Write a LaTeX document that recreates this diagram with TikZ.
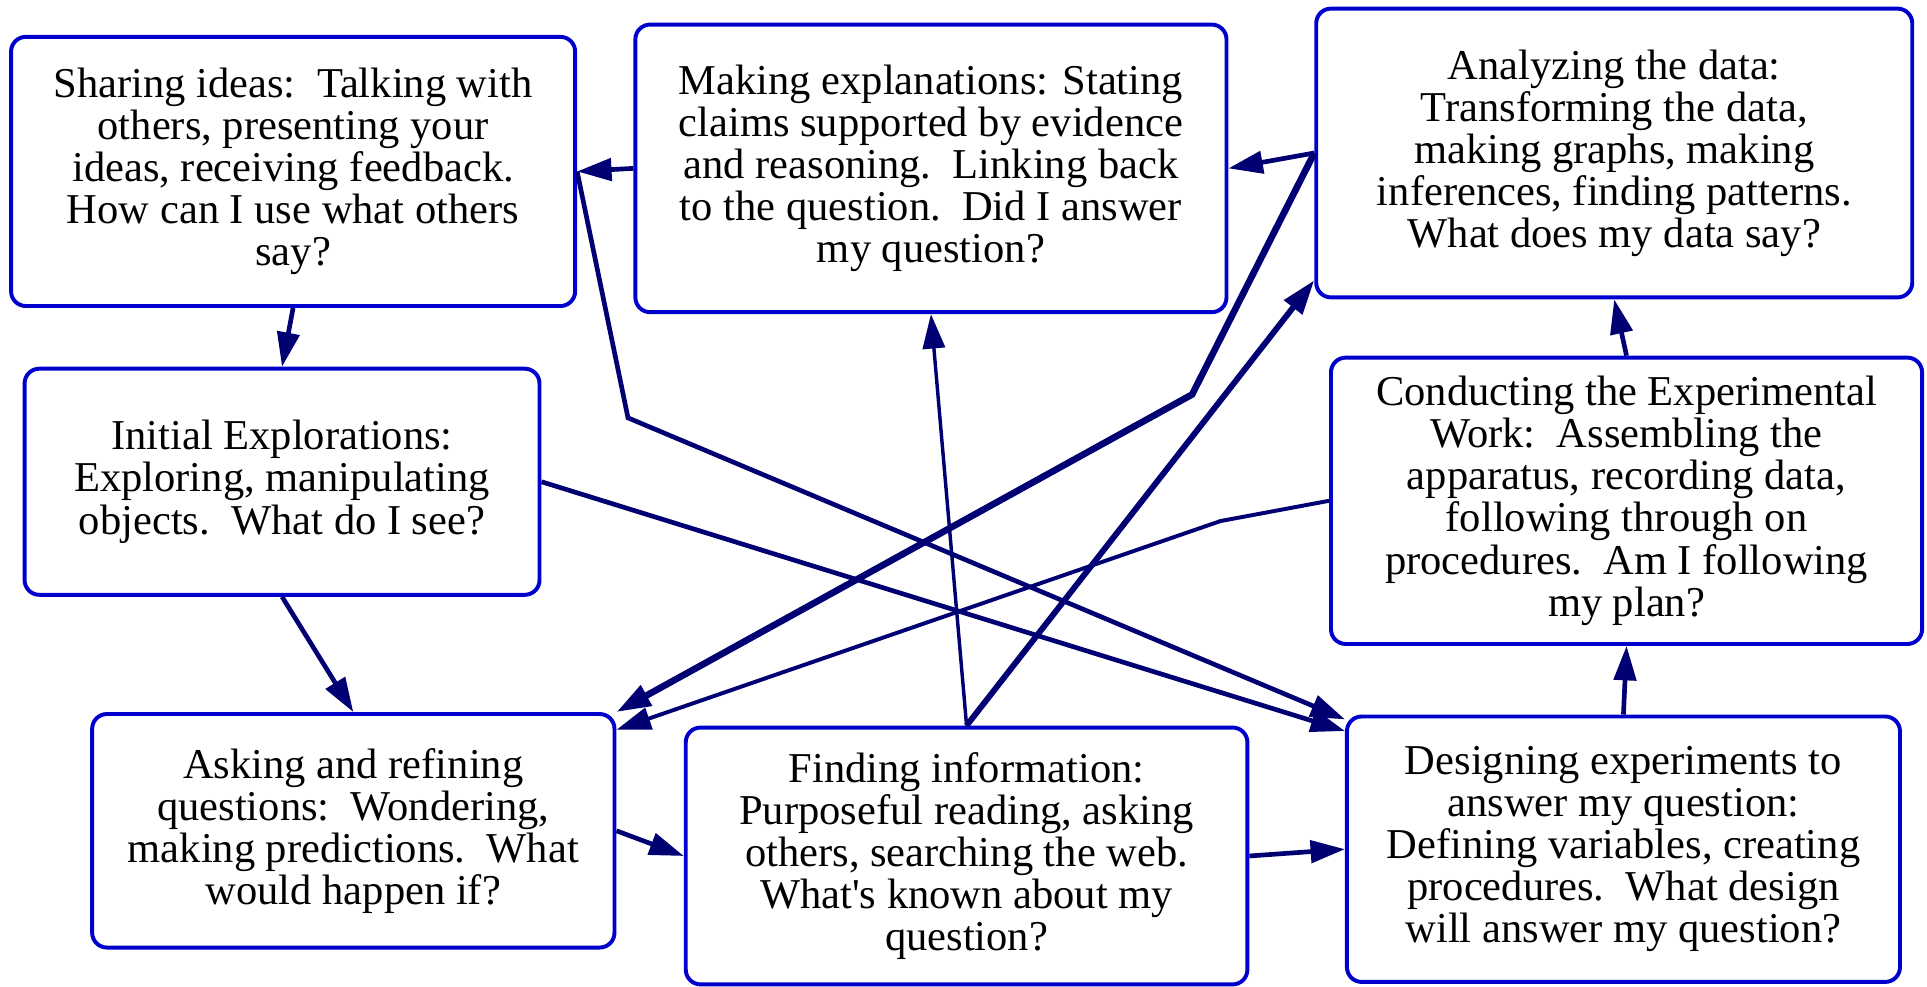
\documentclass[tikz,border=0pt]{standalone}
\usepackage{fontspec}
\setmainfont{Liberation Serif}
\usetikzlibrary{arrows.meta}
\definecolor{boxblue}{RGB}{0,0,204}
\definecolor{edgenavy}{RGB}{0,0,115}
\begin{document}
\begin{tikzpicture}[x=0.5pt,y=-0.5pt,
  stagebox/.style={draw=boxblue, line width=1.6pt, rounded corners=6pt, fill=white, align=center, inner sep=0pt, font=\fontsize{17.3pt}{17.1pt}\selectfont},
  conn/.style={draw=edgenavy, line width=1.9pt, -{Triangle[length=14pt,width=9pt]}, line join=miter},
  thin conn/.style={conn, line width=1.4pt},
  light conn/.style={conn, line width=1.6pt},
  thick conn/.style={conn, line width=2.7pt},
  mid conn/.style={conn, line width=2.4pt},
]
\useasboundingbox (0,0) rectangle (1568,803);

\node[stagebox, minimum width=229.5pt, minimum height=109.5pt] (share) at (238.5,139.5)
  {Sharing ideas:\ \ Talking with\\ others, presenting your\\ ideas, receiving feedback.\\ How can I use what others\\ say?};
\node[stagebox, minimum width=240.5pt, minimum height=117pt] (expl) at (757.5,137)
  {Making explanations: Stating\\ claims supported by evidence\\ and reasoning.\ \ Linking back\\ to the question.\ \ Did I answer\\ my question?};
\node[stagebox, minimum width=242.5pt, minimum height=117.5pt] (anal) at (1313.5,124.5)
  {Analyzing the data:\\ Transforming the data,\\ making graphs, making\\ inferences, finding patterns.\\ What does my data say?};
\node[stagebox, minimum width=209.5pt, minimum height=92pt] (init) at (229.5,392)
  {Initial Explorations:\\ Exploring, manipulating\\ objects.\ \ What do I see?};
\node[stagebox, minimum width=240.5pt, minimum height=116.5pt] (cond) at (1323.5,407.5)
  {Conducting the Experimental\\ Work:\ \ Assembling the\\ apparatus, recording data,\\ following through on\\ procedures.\ \ Am I following\\ my plan?};
\node[stagebox, minimum width=212.5pt, minimum height=95pt] (ask) at (287.5,676)
  {Asking and refining\\ questions:\ \ Wondering,\\ making predictions.\ \ What\\ would happen if?};
\node[stagebox, minimum width=228.5pt, minimum height=104.5pt] (find) at (786.5,696.5)
  {Finding information:\\ Purposeful reading, asking\\ others, searching the web.\\ What\textquotesingle s known about my\\ question?};
\node[stagebox, minimum width=225pt, minimum height=108pt] (design) at (1321,691)
  {Designing experiments to\\ answer my question:\\ Defining variables, creating\\ procedures.\ \ What design\\ will answer my question?};

\coordinate (bendA) at (970,321);
\coordinate (bendS) at (511,340);
\coordinate (bendC) at (993,424);

\draw[conn] (expl.west) -- (share.east);
\draw[conn] (anal.west) -- (expl.east);
\draw[conn] (share.south) -- (init.north);
\draw[conn] (init.south) -- (ask.north);
\draw[conn] (ask.east) -- (find.west);
\draw[conn] (find.east) -- (design.west);
\draw[conn] (design.north) -- (cond.south);
\draw[conn] (cond.north) -- (anal.south);
\draw[thin conn] (find.north) -- (expl.south);
\draw[mid conn] (find.north) -- (anal.203);
\draw[thick conn] (anal.west) -- (bendA) -- (ask.north east);
\draw[light conn] (cond.west) -- (bendC) -- (ask.21);
\draw[conn] (share.east) -- (bendS) -- (design.155);
\draw[conn] (init.east) -- (design.157);
\end{tikzpicture}
\end{document}
